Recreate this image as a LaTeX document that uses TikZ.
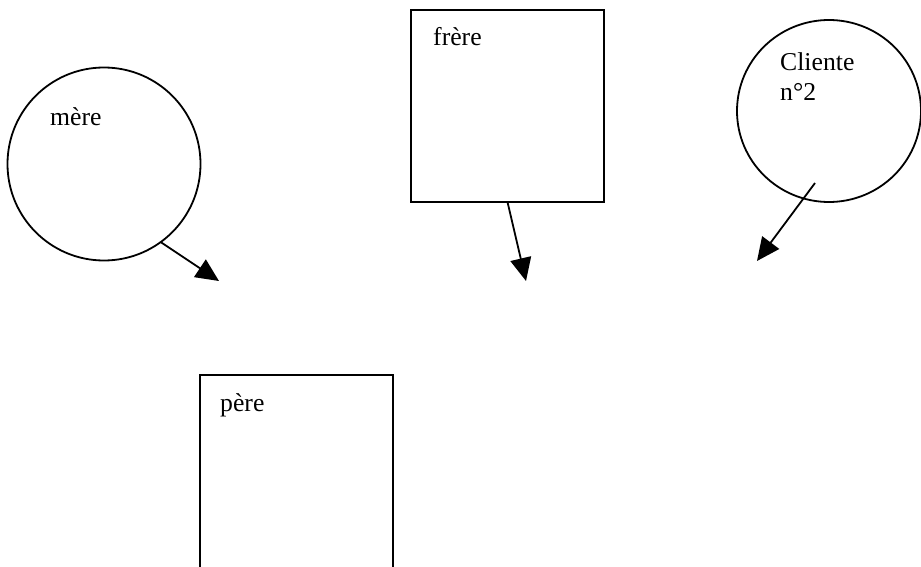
\documentclass[tikz,border=0pt]{standalone}
\usepackage{fontspec}
\setmainfont{Liberation Serif}
\usetikzlibrary{arrows.meta,shapes.geometric}
\begin{document}
\begin{tikzpicture}[x=1pt,y=-1pt,
  shapeline/.style={draw=black,line width=1.8pt,inner sep=0pt,outer sep=0pt},
  roundshape/.style={shapeline,circle},
  boxshape/.style={shapeline,rectangle},
  lbl/.style={anchor=base west,inner sep=0pt,font=\fontsize{25.7}{30}\selectfont},
  conn/.style={line width=1.8pt,-{Triangle[length=23pt,width=21pt]}}]
\useasboundingbox (0,0) rectangle (921,567);
\clip (0,0) rectangle (921,567);
% shapes
\node[roundshape,minimum size=193pt] (mere) at (104,164) {};
\node[boxshape,minimum width=193pt,minimum height=192pt] (frere) at (507.5,106) {};
\node[shapeline,ellipse,minimum width=184pt,minimum height=182pt] (cli) at (829,111) {};
\node[boxshape,minimum width=193pt,minimum height=230pt] (pere) at (296.5,490) {};
% labels
\node[lbl] (tmere) at (50,126) {mère};
\node[lbl] (tfrere) at (433,46) {frère};
\node[lbl] (tcli1) at (780,71) {Cliente};
\node[lbl] (tcli2) at (780,101) {n°2};
\node[lbl] (tpere) at (220,411) {père};
% free ends
\coordinate (e1) at (219,281);
\coordinate (e2) at (526,281);
\coordinate (s3) at (815,183);
\coordinate (e3) at (757,261);
% connectors
\draw[conn] (mere.-54) -- (e1);
\draw[conn] (frere.south) -- (e2);
\draw[conn] (s3) -- (e3);
\end{tikzpicture}
\end{document}
